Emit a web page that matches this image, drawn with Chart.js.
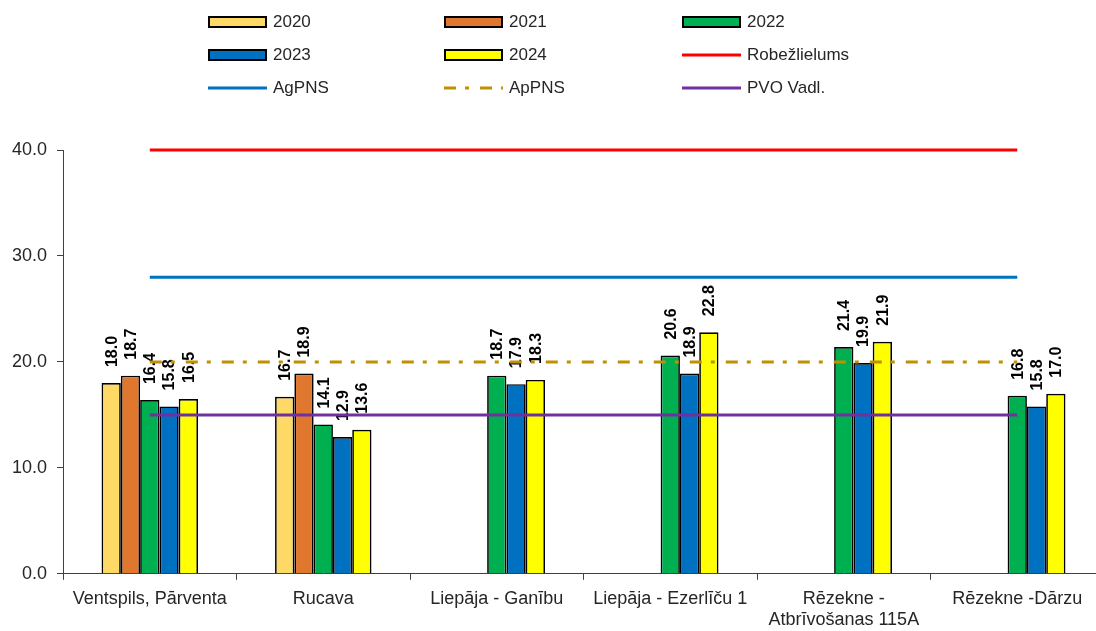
<!DOCTYPE html>
<html>
<head>
<meta charset="utf-8">
<script src="https://cdn.jsdelivr.net/npm/chart.js@4.4.1/dist/chart.umd.min.js"></script>
<style>
  html, body { margin: 0; padding: 0; background: #fff; overflow: hidden; }
  #wrap { position: relative; width: 1110px; height: 639px; }
  #wrap canvas { position: absolute; left: 0; top: 0; }
  #legend { position: absolute; left: 0; top: 0; width: 1096px; height: 110px; z-index: 2;
            font: 17px "Liberation Sans", Arial, sans-serif; color: #262626; }
  .item { position: absolute; display: flex; align-items: center; height: 20px; white-space: nowrap; }
  .item svg { margin-right: 6px; }
</style>
</head>
<body>
<div id="wrap">
  <div id="legend"></div>
  <canvas id="airChart"></canvas>
</div>
<script>
// Stations (x categories)
const categories = [
  'Ventspils, Pārventa',
  'Rucava',
  'Liepāja - Ganību',
  'Liepāja - Ezerlīču 1',
  'Rēzekne -\nAtbrīvošanas 115A',
  'Rēzekne -Dārzu'
];

// Yearly means per station
const y2020 = [18.0, 16.7, null, null, null, null];
const y2021 = [18.7, 18.9, null, null, null, null];
const y2022 = [16.4, 14.1, 18.7, 20.6, 21.4, 16.8];
const y2023 = [15.8, 12.9, 17.9, 18.9, 19.9, 15.8];
const y2024 = [16.5, 13.6, 18.3, 22.8, 21.9, 17.0];

// Reference levels
const robezlielums = [40, 40, 40, 40, 40, 40];
const agpns = [28, 28, 28, 28, 28, 28];
const appns = [20, 20, 20, 20, 20, 20];
const pvoVadl = [15, 15, 15, 15, 15, 15];

// Y axis
const yMin = 0;
const yMax = 40;
const yStep = 10;

const FONT = '"Liberation Sans", Arial, sans-serif';

function barSet(label, data, color) {
    return {
        type: 'bar', label: label, data: data,
        backgroundColor: color, borderColor: '#000', borderWidth: 1.7,
        categoryPercentage: 0.556, barPercentage: 1, order: 1
    };
}

function lineSet(label, data, color, dash) {
    return {
        type: 'line', label: label, data: data,
        borderColor: color, backgroundColor: color, borderWidth: 3,
        borderDash: dash || [], pointRadius: 0, fill: false, order: 0, clip: false
    };
}

const datasets = [
    barSet('2020', y2020, '#FFD966'),
    barSet('2021', y2021, '#E0772F'),
    barSet('2022', y2022, '#00B050'),
    barSet('2023', y2023, '#0070C0'),
    barSet('2024', y2024, '#FFFF00'),
    lineSet('Robežlielums', robezlielums, '#FF0000'),
    lineSet('AgPNS', agpns, '#0070C0'),
    lineSet('ApPNS', appns, '#BF9000', [12, 9, 4, 11]),
    lineSet('PVO Vadl.', pvoVadl, '#7030A0')
];

// Vertical value labels above the bars (drawn before the lines)
const barLabels = {
    id: 'barLabels',
    afterDatasetDraw(chart, args) {
        const ds = chart.data.datasets[args.index];
        if (ds.type !== 'bar') return;
        const ctx = chart.ctx;
        ctx.save();
        ctx.font = 'bold 16px ' + FONT;
        ctx.fillStyle = '#000';
        ctx.textAlign = 'left';
        ctx.textBaseline = 'middle';
        args.meta.data.forEach((bar, i) => {
            const v = ds.data[i];
            if (v == null) return;
            ctx.save();
            ctx.translate(bar.x + 1, bar.y - 16);
            ctx.rotate(-Math.PI / 2);
            ctx.fillText(v.toFixed(1), 0, 0);
            ctx.restore();
        });
        ctx.restore();
    }
};

const ctx = document.getElementById('airChart').getContext('2d');
const airChart = new Chart(ctx, {
    data: {
        labels: categories.map(c => c.split('\n')),
        datasets: datasets
    },
    options: {
        responsive: true,
        maintainAspectRatio: false,
        animation: false,
        layout: { padding: { top: 150, left: 2, right: 6, bottom: 0 } },
        plugins: {
            legend: { display: false },
            tooltip: { enabled: false }
        },
        scales: {
            x: {
                offset: true,
                grid: { offset: true, drawOnChartArea: false, drawTicks: true, tickLength: 6, color: '#404040' },
                border: { color: '#404040', width: 1 },
                ticks: { color: '#262626', font: { family: FONT, size: 18 }, padding: 8, maxRotation: 0, autoSkip: false }
            },
            y: {
                min: yMin,
                max: yMax,
                grid: { drawOnChartArea: false, drawTicks: true, tickLength: 6, color: '#404040' },
                border: { color: '#404040', width: 1 },
                ticks: {
                    stepSize: yStep,
                    color: '#262626',
                    font: { family: FONT, size: 18 },
                    padding: 10,
                    callback: v => v.toFixed(1)
                }
            }
        }
    },
    plugins: [barLabels]
});

// Legend: 3 columns x 3 rows, built from the datasets
const legendCols = [208, 444, 682];
const legendRows = [22, 55, 88];
const legendEl = document.getElementById('legend');
datasets.forEach((ds, i) => {
    const item = document.createElement('div');
    item.className = 'item';
    item.style.left = legendCols[i % 3] + 'px';
    item.style.top = (legendRows[Math.floor(i / 3)] - 10) + 'px';
    let svg;
    if (ds.type === 'bar') {
        svg = `<svg width="59" height="12"><rect x="1" y="1" width="57" height="10" fill="${ds.backgroundColor}" stroke="#000" stroke-width="2"/></svg>`;
    } else {
        const dash = ds.borderDash.length ? `stroke-dasharray="${ds.borderDash.join(' ')}"` : '';
        svg = `<svg width="59" height="12"><line x1="0" y1="6" x2="59" y2="6" stroke="${ds.borderColor}" stroke-width="3" ${dash}/></svg>`;
    }
    item.innerHTML = svg + '<span>' + ds.label + '</span>';
    legendEl.appendChild(item);
});
</script>
</body>
</html>
